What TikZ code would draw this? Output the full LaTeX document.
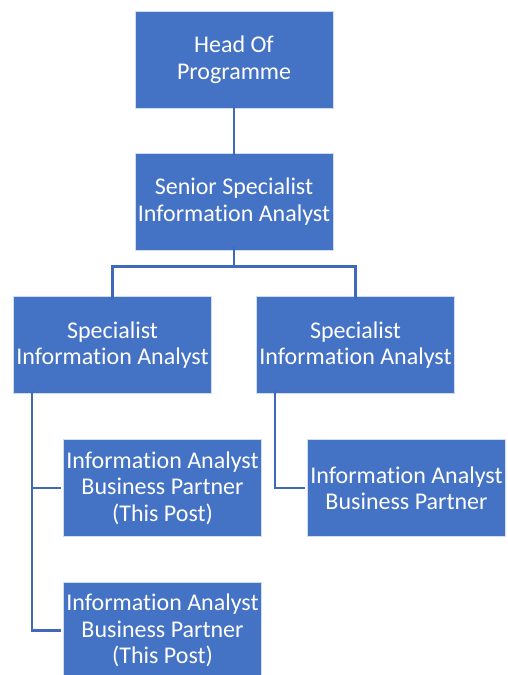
\documentclass[tikz,border=0pt]{standalone}
\usepackage{fontspec}
\setmainfont{Carlito}[Ligatures={NoCommon}]
\usepackage{tikz}
\usetikzlibrary{calc}
\definecolor{boxblue}{RGB}{68,114,196}
\definecolor{lineblue}{RGB}{64,106,184}

\begin{document}
\begin{tikzpicture}[x=1pt,y=-1pt,
  post/.style={rectangle,fill=boxblue,draw=white!75!boxblue,line width=0.8pt,
    minimum width=198pt,minimum height=97pt,inner sep=0pt,
    text=white,align=center,font=\fontsize{24}{26.5}\selectfont},
  link/.style={draw=lineblue,line width=2.6pt}]
\useasboundingbox (0,0) rectangle (507,675);
\node[post] (head) at (234,59.5) {Head Of\\Programme};
\node[post] (senior) at (234,201.5) {Senior Specialist\\Information Analyst};
\node[post] (specl) at (112.5,345) {Specialist\\Information Analyst};
\node[post] (specr) at (355.5,345) {Specialist\\Information Analyst};
\node[post] (parta) at (162.5,488) {Information Analyst\\Business Partner\\(This Post)};
\node[post] (partr) at (406.5,488) {Information Analyst\\Business Partner};
\node[post] (partb) at (162.5,630.5) {Information Analyst\\Business Partner\\(This Post)};

\draw[link] ([yshift=3pt]head.south) -- ([yshift=-3pt]senior.north);
\draw[link] ([yshift=3pt]senior.south) -- ++(0,19) -| ([yshift=-3pt]specl.north);
\draw[link] ([yshift=3pt]senior.south) -- ++(0,19) -| ([yshift=-3pt]specr.north);
\draw[link] ([xshift=19pt,yshift=3pt]specl.south west) |- ([xshift=-2pt]parta.west);
\draw[link] ([xshift=19pt,yshift=3pt]specl.south west) |- ([xshift=-2pt]partb.west);
\draw[link] ([xshift=19pt,yshift=3pt]specr.south west) |- ([xshift=-2pt]partr.west);
\end{tikzpicture}
\end{document}
